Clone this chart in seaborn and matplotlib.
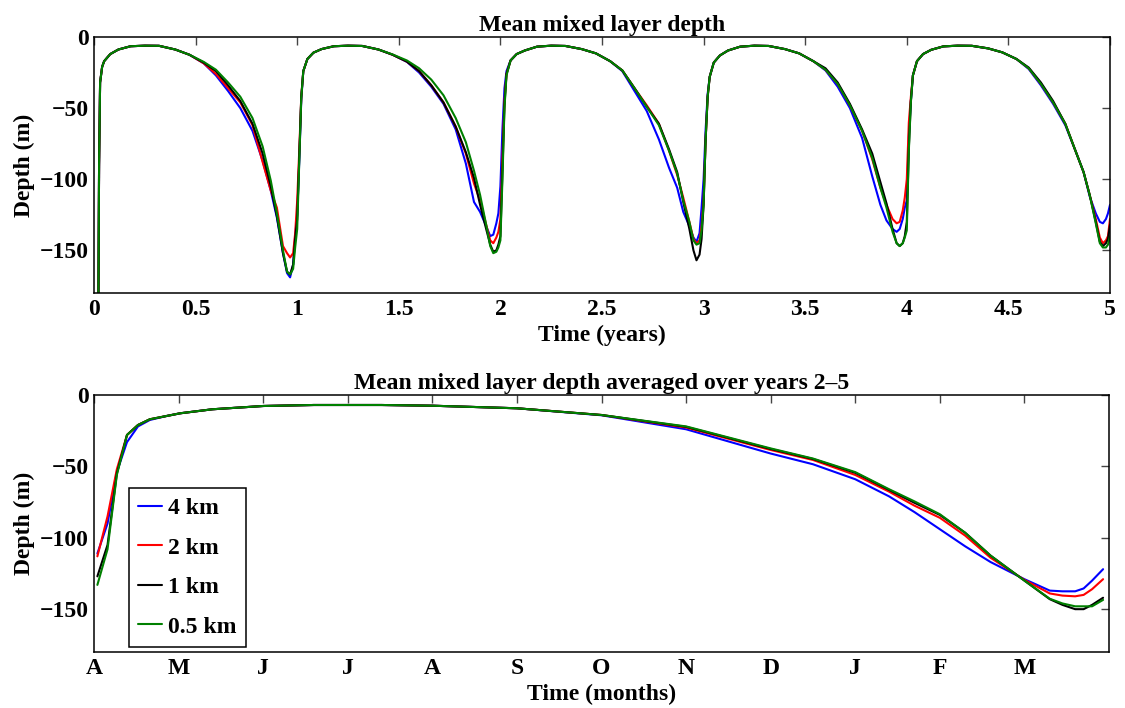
import matplotlib
matplotlib.use("Agg")
import matplotlib.pyplot as plt
import pandas as pd
import seaborn as sns

# ---------------- Top panel data (time in years, depth in m) ----------------
years = [
    0.020, 0.025, 0.030, 0.040, 0.050, 0.080, 0.120, 0.180, 0.250, 0.320, 0.400, 0.470, 0.540,
    0.600, 0.660, 0.720, 0.780, 0.830, 0.870, 0.900, 0.930, 0.950, 0.965, 0.980, 0.990,
    1.000, 1.010, 1.020, 1.030, 1.050, 1.080, 1.120, 1.180, 1.250, 1.320, 1.400, 1.470, 1.540,
    1.600, 1.660, 1.720, 1.780, 1.830, 1.870, 1.900, 1.930, 1.950, 1.965, 1.980, 1.990,
    2.000, 2.010, 2.020, 2.030, 2.050, 2.080, 2.120, 2.180, 2.250, 2.320, 2.400, 2.470, 2.540,
    2.600, 2.660, 2.720, 2.780, 2.830, 2.870, 2.900, 2.930, 2.950, 2.965, 2.980, 2.990,
    3.000, 3.010, 3.020, 3.030, 3.050, 3.080, 3.120, 3.180, 3.250, 3.320, 3.400, 3.470, 3.540,
    3.600, 3.660, 3.720, 3.780, 3.830, 3.870, 3.900, 3.930, 3.950, 3.965, 3.980, 3.990,
    4.000, 4.010, 4.020, 4.030, 4.050, 4.080, 4.120, 4.180, 4.250, 4.320, 4.400, 4.470, 4.540,
    4.600, 4.660, 4.720, 4.780, 4.830, 4.870, 4.900, 4.930, 4.950, 4.965, 4.980, 4.990,
    5.000,
]

depth_4km = [
    -230, -90, -32, -21, -17, -12, -8.8, -6.5, -6.1, -6.2, -8.8, -12.5, -18.5,
    -27, -38, -50, -66, -87, -108, -127, -152, -166, -169, -160, -140,
    -125, -88, -44, -24, -15.5, -11, -8.5, -6.5, -6.1, -6.3, -8.8, -12.5, -17.5,
    -25, -35, -47, -65, -89, -116, -123, -133, -140, -139, -131, -124,
    -105, -65, -36, -24, -16.5, -12, -9.5, -6.8, -6.1, -6.3, -8.5, -11.5, -17,
    -24, -38, -52, -72, -92, -106, -123, -133, -141, -144, -138, -120,
    -100, -65, -40, -28, -18, -13, -9.5, -6.8, -6.1, -6.3, -8.5, -11.5, -17,
    -23.5, -35, -50, -71, -98, -118, -129, -135, -137, -135, -128, -120,
    -115, -70, -45, -27, -17, -12, -9, -6.6, -6.1, -6.2, -8.0, -10.8, -15.5,
    -22.5, -34, -47, -62, -80, -95, -112, -124, -130, -131, -128, -124,
    -118,
]
depth_2km = [
    -230, -90, -32, -21, -17, -12, -8.8, -6.5, -6.1, -6.2, -8.8, -12.5, -18.5,
    -26, -36, -46, -62, -88, -108, -120, -147, -152, -155, -152, -138,
    -115, -80, -42, -24, -15.5, -11, -8.5, -6.5, -6.1, -6.3, -8.8, -12.5, -17.3,
    -24, -34, -46, -63, -82, -103, -115, -132, -143, -145, -141, -137,
    -128, -85, -45, -26, -16.5, -12, -9.5, -6.8, -6.1, -6.3, -8.5, -11.5, -17,
    -23.5, -36, -48, -61, -80, -97, -113, -130, -142, -145, -143, -133,
    -115, -72, -42, -28, -18, -13, -9.5, -6.8, -6.1, -6.3, -8.5, -11.5, -17,
    -23, -33, -48, -66, -86, -106, -118, -128, -131, -130, -122, -113,
    -100, -60, -42, -27, -17, -12, -9, -6.6, -6.1, -6.2, -8.0, -10.8, -15.5,
    -22, -33, -46, -61, -80, -95, -111, -128, -141, -145, -143, -140,
    -128,
]
depth_1km = [
    -230, -90, -32, -21, -17, -12, -8.8, -6.5, -6.1, -6.2, -8.8, -12.5, -18,
    -24, -34, -45, -61, -82, -105, -126, -152, -165, -167, -160, -142,
    -128, -85, -42, -24, -15.5, -11, -8.5, -6.5, -6.1, -6.3, -8.8, -12.5, -17.3,
    -24, -34, -46, -63, -81, -99, -118, -135, -146, -151, -150, -146,
    -140, -95, -48, -26, -16.5, -12, -9.5, -6.8, -6.1, -6.3, -8.5, -11.5, -17,
    -23.5, -36, -49, -61, -79, -95, -116, -135, -150, -157, -153, -142,
    -118, -72, -42, -28, -18, -13, -9.5, -6.8, -6.1, -6.3, -8.5, -11.5, -17,
    -22, -32, -47, -65, -82, -102, -117, -135, -145, -147, -145, -140,
    -130, -78, -45, -27, -17, -12, -9, -6.6, -6.1, -6.2, -8.0, -10.8, -15.5,
    -21.5, -32, -45, -61, -80, -95, -111, -130, -144, -147, -145, -142,
    -132,
]
depth_05km = [
    -230, -90, -32, -21, -17, -12, -8.8, -6.5, -6.1, -6.2, -8.8, -12.5, -17.5,
    -23, -32, -42, -57, -77, -101, -124, -150, -165, -167, -163, -148,
    -135, -88, -43, -24, -15.5, -11, -8.5, -6.5, -6.1, -6.3, -8.8, -12.3, -16.5,
    -22, -30, -41, -57, -74, -94, -111, -132, -147, -152, -151, -148,
    -143, -100, -50, -27, -16.5, -12, -9.5, -6.8, -6.1, -6.3, -8.5, -11.5, -17,
    -23.5, -36, -49, -62, -80, -96, -115, -130, -143, -146, -145, -136,
    -118, -72, -42, -28, -18, -13, -9.5, -6.8, -6.1, -6.3, -8.5, -11.5, -17,
    -23, -33, -48, -66, -85, -106, -120, -137, -145, -147, -145, -141,
    -136, -80, -46, -27, -17, -12, -9, -6.6, -6.1, -6.2, -8.0, -10.8, -15.5,
    -22, -33, -46, -61, -80, -95, -111, -131, -145, -148, -148, -146,
    -140,
]

# ---------------- Bottom panel data (months from April) ----------------
months = [0.04, 0.16, 0.27, 0.39, 0.52, 0.66, 0.85, 1.02, 1.4, 2.0, 2.6, 3.4, 4.0, 5.0,
          6.0, 7.0, 8.0, 8.5, 9.0, 9.4, 9.7, 10.0, 10.3, 10.6, 11.0, 11.3, 11.45, 11.6,
          11.7, 11.8, 11.93]
avg_4km = [-111, -90, -54, -33, -22, -17.5, -14.8, -12.8, -10, -7.7, -7, -7, -7.5, -9.3,
           -14.2, -24, -41, -48.5, -59, -71, -82, -94, -106, -117, -129, -137, -137.5, -137.5,
           -135.5, -130, -122]
avg_2km = [-113, -85, -52, -28, -21, -17, -14.8, -12.8, -10, -7.7, -7, -7, -7.5, -9.3,
           -14, -22.8, -38.5, -45.5, -56, -67.7, -77.5, -86, -98.5, -114, -129.5, -139, -140.5, -141,
           -140, -136, -129]
avg_1km = [-127, -105, -55, -28, -21, -17, -14.8, -12.8, -10, -7.7, -7, -7, -7.5, -9.3,
           -14, -22.3, -37.8, -44.8, -54.5, -66.5, -75.5, -84, -96.5, -112.5, -130, -143, -147, -150,
           -150, -147, -142]
avg_05km = [-133, -108, -56, -28, -21, -17, -14.8, -12.8, -10, -7.7, -7, -7, -7.5, -9.3,
            -14, -22, -37.4, -44.5, -54, -66, -74.5, -83.5, -96.5, -112.5, -130, -142.7, -146, -148,
            -148, -148, -143.5]

month_ticks = [0, 1, 2, 3, 4, 5, 6, 7, 8, 9, 10, 11]
month_labels = ["A", "M", "J", "J", "A", "S", "O", "N", "D", "J", "F", "M"]
year_ticks = [0, 0.5, 1, 1.5, 2, 2.5, 3, 3.5, 4, 4.5, 5]
year_labels = ["0", "0.5", "1", "1.5", "2", "2.5", "3", "3.5", "4", "4.5", "5"]
depth_ticks = [0, -50, -100, -150]

resolutions = ["4 km", "2 km", "1 km", "0.5 km"]
palette = {"4 km": "#0000ff", "2 km": "#ff0000", "1 km": "#000000", "0.5 km": "#008000"}

# ---------------- Long-form frames ----------------
top_frames = []
for name, vals in zip(resolutions, [depth_4km, depth_2km, depth_1km, depth_05km]):
    top_frames.append(pd.DataFrame({"Time": years, "Depth": vals, "Resolution": name}))
top_df = pd.concat(top_frames, ignore_index=True)

bot_frames = []
for name, vals in zip(resolutions, [avg_4km, avg_2km, avg_1km, avg_05km]):
    bot_frames.append(pd.DataFrame({"Month": months, "Depth": vals, "Resolution": name}))
bot_df = pd.concat(bot_frames, ignore_index=True)

# ---------------- Style ----------------
sns.set_theme(style="white")
plt.rcParams["font.family"] = ["Liberation Serif", "DejaVu Serif"]
plt.rcParams["font.weight"] = "bold"
plt.rcParams["axes.labelweight"] = "bold"
plt.rcParams["axes.titleweight"] = "bold"
plt.rcParams["axes.unicode_minus"] = True
plt.rcParams["text.color"] = "black"
plt.rcParams["axes.labelcolor"] = "black"
plt.rcParams["xtick.color"] = "black"
plt.rcParams["ytick.color"] = "black"

FS = 17

fig = plt.figure(figsize=(11.25, 7.08), dpi=100)
ax1 = fig.add_axes([94 / 1125, 1 - 293 / 708, (1110 - 94) / 1125, (293 - 37) / 708])
ax2 = fig.add_axes([94 / 1125, 1 - 652 / 708, (1109 - 94) / 1125, (652 - 395) / 708])

sns.lineplot(data=top_df, x="Time", y="Depth", hue="Resolution", hue_order=resolutions,
             palette=palette, estimator=None, sort=False, lw=1.5, ax=ax1, legend=False)
sns.lineplot(data=bot_df, x="Month", y="Depth", hue="Resolution", hue_order=resolutions,
             palette=palette, estimator=None, sort=False, lw=1.5, ax=ax2)

for ax in (ax1, ax2):
    ax.set_ylim(-180, 0)
    ax.set_yticks(depth_ticks)
    ax.tick_params(direction="in", length=6, width=1, top=True, right=True,
                   color="#444444", labelsize=FS, pad=4, labelcolor="black")
    for s in ax.spines.values():
        s.set_color("black")
        s.set_linewidth(1.1)
    ax.set_ylabel("Depth (m)", fontsize=FS, labelpad=3)

ax1.set_xlim(0, 5)
ax1.set_xticks(year_ticks)
ax1.set_xticklabels(year_labels)
ax1.set_xlabel("Time (years)", fontsize=FS, labelpad=4)
ax1.set_title("Mean mixed layer depth", fontsize=FS, pad=4)

ax2.set_xlim(0, 12)
ax2.set_xticks(month_ticks)
ax2.set_xticklabels(month_labels)
ax2.set_xlabel("Time (months)", fontsize=FS, labelpad=4)
ax2.set_title("Mean mixed layer depth averaged over years 2\u20135", fontsize=FS, pad=4)

handles, labs = ax2.get_legend_handles_labels()
leg = ax2.legend(handles, labs, loc="lower left", bbox_to_anchor=(0.0345, 0.019),
                 borderaxespad=0, fontsize=FS, frameon=True, fancybox=False,
                 edgecolor="black", handlelength=1.0, handletextpad=0.25,
                 labelspacing=0.76, borderpad=0.4)
leg.get_frame().set_linewidth(1.1)
leg.get_frame().set_alpha(1)

fig.savefig("out.png", dpi=100)
